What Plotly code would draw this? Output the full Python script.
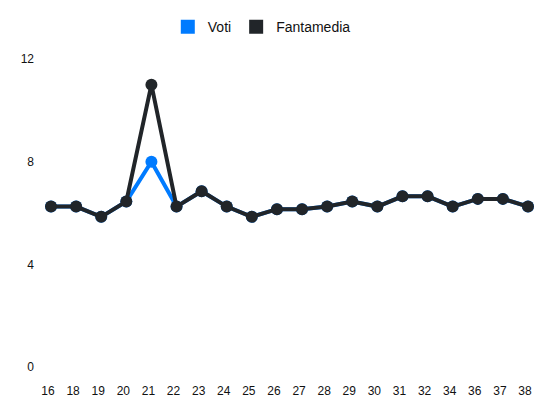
import plotly.graph_objs as go

giornate = ["16", "18", "19", "20", "21", "22", "23", "24", "25", "26",
            "27", "28", "29", "30", "31", "32", "34", "36", "37", "38"]
voti = [6.25, 6.25, 5.85, 6.45, 8, 6.25, 6.85, 6.25, 5.85, 6.15,
        6.15, 6.25, 6.45, 6.25, 6.65, 6.65, 6.25, 6.55, 6.55, 6.25]
fantamedia = [6.25, 6.25, 5.85, 6.45, 11, 6.25, 6.85, 6.25, 5.85, 6.15,
              6.15, 6.25, 6.45, 6.25, 6.65, 6.65, 6.25, 6.55, 6.55, 6.25]
y_ticks = [0, 4, 8, 12]

blue = "#007bff"
dark = "#212529"

def serie(y, colore, nome):
    return go.Scatter(x=giornate, y=y, name=nome, mode="lines+markers",
                      line=dict(color=colore, width=4),
                      marker=dict(color=colore, size=12),
                      cliponaxis=False, showlegend=False)

def legenda(colore, nome):
    return go.Scatter(x=[None], y=[None], name=nome, mode="markers",
                      marker=dict(symbol="square", size=14, color=colore))

data = [serie(voti, blue, "Voti"), serie(fantamedia, dark, "Fantamedia"),
        legenda(blue, "Voti"), legenda(dark, "Fantamedia")]

layout = go.Layout(
    width=550, height=412,
    margin=dict(l=51, r=22, t=59, b=45, autoexpand=False),
    plot_bgcolor="white", paper_bgcolor="white",
    font=dict(family="Liberation Sans, Arial, sans-serif", size=12, color="#111"),
    showlegend=True,
    legend=dict(orientation="h", x=0.476, xanchor="center", xref="container",
                y=0.934, yanchor="middle", yref="container",
                font=dict(size=14), itemclick=False),
    xaxis=dict(type="category", range=[0, len(giornate) - 1], showgrid=False,
               zeroline=False, showline=False, ticks="", fixedrange=True,
               automargin=False, ticklabelshift=-3, ticklabelstandoff=15),
    yaxis=dict(range=[0, 12], tickvals=y_ticks, showgrid=False, zeroline=False,
               showline=False, ticks="", ticklabelstandoff=16, fixedrange=True,
               automargin=False),
)

fig = go.Figure(data=data, layout=layout)
# niente margine di pagina, il grafico parte dall'angolo
fig.write_html("out.html", config=dict(displayModeBar=False),
               post_script="document.body.style.margin = '0px';")
